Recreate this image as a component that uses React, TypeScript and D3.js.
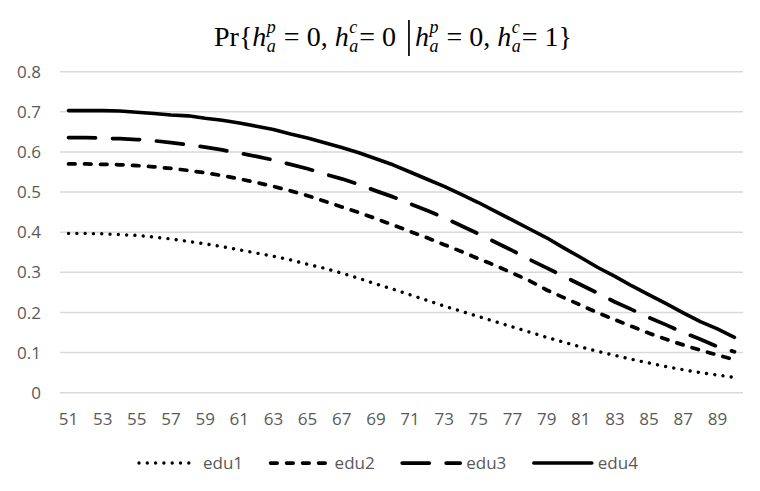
import React, { useEffect, useRef } from "react";
import * as d3 from "d3";

const ages = [51, 52, 53, 54, 55, 56, 57, 58, 59, 60, 61, 62, 63, 64, 65, 66, 67, 68, 69, 70,
  71, 72, 73, 74, 75, 76, 77, 78, 79, 80, 81, 82, 83, 84, 85, 86, 87, 88, 89, 90];

const edu1 = [0.397, 0.397, 0.396, 0.394, 0.392, 0.388, 0.383, 0.377, 0.371, 0.364,
  0.356, 0.348, 0.340, 0.331, 0.320, 0.310, 0.298, 0.285, 0.271, 0.258,
  0.244, 0.230, 0.216, 0.203, 0.190, 0.177, 0.164, 0.151, 0.138, 0.126,
  0.114, 0.103, 0.093, 0.083, 0.074, 0.065, 0.057, 0.050, 0.044, 0.038];

const edu2 = [0.570, 0.570, 0.569, 0.568, 0.566, 0.563, 0.559, 0.554, 0.548, 0.541,
  0.533, 0.524, 0.514, 0.503, 0.491, 0.477, 0.463, 0.449, 0.434, 0.418,
  0.402, 0.386, 0.369, 0.352, 0.334, 0.317, 0.298, 0.279, 0.256, 0.237,
  0.218, 0.199, 0.182, 0.165, 0.148, 0.133, 0.119, 0.106, 0.094, 0.082];

const edu3 = [0.636, 0.636, 0.634, 0.633, 0.631, 0.628, 0.623, 0.618, 0.612, 0.605,
  0.597, 0.589, 0.580, 0.569, 0.558, 0.545, 0.533, 0.519, 0.503, 0.488,
  0.471, 0.454, 0.436, 0.416, 0.396, 0.375, 0.354, 0.332, 0.311, 0.290,
  0.269, 0.248, 0.226, 0.207, 0.187, 0.169, 0.150, 0.133, 0.115, 0.102];

const edu4 = [0.703, 0.703, 0.703, 0.702, 0.699, 0.696, 0.692, 0.690, 0.684, 0.679,
  0.672, 0.664, 0.656, 0.645, 0.635, 0.623, 0.611, 0.598, 0.583, 0.568,
  0.550, 0.532, 0.514, 0.494, 0.474, 0.452, 0.430, 0.408, 0.386, 0.361,
  0.337, 0.312, 0.290, 0.266, 0.244, 0.222, 0.199, 0.177, 0.159, 0.138];

const seriesNames = ["edu1", "edu2", "edu3", "edu4"];
const yTicks = [0, 0.1, 0.2, 0.3, 0.4, 0.5, 0.6, 0.7, 0.8];
const xTickLabels = [51, 53, 55, 57, 59, 61, 63, 65, 67, 69, 71, 73, 75, 77, 79, 81, 83, 85, 87, 89];

const W = 760;
const H = 491;

const styles = [
  { dash: "0.001 8.3", width: 3.4 },
  { dash: "6.5 9.5", width: 3.75 },
  { dash: "27 17", width: 3.75 },
  { dash: null, width: 3.6 },
];

export default function App() {
  const ref = useRef<SVGSVGElement | null>(null);

  useEffect(() => {
    const svg = d3.select(ref.current);
    svg.selectAll("*").remove();

    const left = 60, right = 743, top = 71.7, bottom = 392.7;
    const x = d3.scaleBand<number>().domain(ages).range([left, right]).padding(0);
    const cx = (a: number) => (x(a) as number) + x.bandwidth() / 2;
    const y = d3.scaleLinear().domain([0, 0.8]).range([bottom, top]);

    const font = "'Open Sans', 'Noto Sans', sans-serif";
    const grey = "#595959";

    // gridlines
    svg.append("g").selectAll("line").data(yTicks).join("line")
      .attr("x1", left).attr("x2", right)
      .attr("y1", (d) => y(d)).attr("y2", (d) => y(d))
      .attr("stroke", "#d9d9d9").attr("stroke-width", 1.5);

    // y labels
    svg.append("g").selectAll("text").data(yTicks).join("text")
      .attr("x", 41).attr("y", (d) => y(d)).attr("dy", "0.36em")
      .attr("text-anchor", "end")
      .attr("font-family", font).attr("font-size", 17).attr("fill", grey)
      .text((d) => (d === 0 ? "0" : d3.format(".1f")(d)));

    // x labels
    svg.append("g").selectAll("text").data(xTickLabels).join("text")
      .attr("x", (d) => cx(d)).attr("y", 425)
      .attr("text-anchor", "middle")
      .attr("font-family", font).attr("font-size", 17).attr("fill", grey)
      .text((d) => String(d));

    // lines
    const allSeries = [edu1, edu2, edu3, edu4];
    const line = d3.line<number>()
      .x((_, i) => cx(ages[i]))
      .y((d) => y(d));
    allSeries.forEach((s, k) => {
      const p = svg.append("path")
        .attr("d", line(s) as string)
        .attr("fill", "none")
        .attr("stroke", "#000")
        .attr("stroke-width", styles[k].width)
        .attr("stroke-linecap", "round")
        .attr("stroke-linejoin", "round");
      if (styles[k].dash) p.attr("stroke-dasharray", styles[k].dash as string);
    });

    // legend
    const legendStarts = d3.range(4).map((i) => 139 + i * 131.6);
    const ly = 463;
    seriesNames.forEach((name, k) => {
      const sx = legendStarts[k];
      const p = svg.append("line")
        .attr("x1", sx).attr("x2", sx + 58)
        .attr("y1", ly).attr("y2", ly)
        .attr("stroke", "#000")
        .attr("stroke-width", styles[k].width)
        .attr("stroke-linecap", "round");
      if (styles[k].dash) p.attr("stroke-dasharray", styles[k].dash as string);
      svg.append("text")
        .attr("x", sx + 64).attr("y", ly).attr("dy", "0.36em")
        .attr("font-family", font).attr("font-size", 17).attr("fill", grey)
        .text(name);
    });

    // title
    const tfont = "'Liberation Serif', 'DejaVu Serif', serif";
    const fs = 28;
    const sfs = 18;
    const base = 46;
    const tg = svg.append("g");
    let cur = 0;
    const addText = (t: string, italic: boolean, size: number, dy: number, xx: number) => {
      const el = tg.append("text")
        .attr("x", xx).attr("y", base + dy)
        .attr("font-family", tfont).attr("font-size", size)
        .attr("font-style", italic ? "italic" : "normal")
        .attr("fill", "#000")
        .style("white-space", "pre")
        .text(t);
      return (el.node() as SVGTextElement).getComputedTextLength();
    };
    type Tok = { t?: string; it?: boolean; sup?: string; sub?: string; bar?: boolean };
    const toks: Tok[] = [
      { t: "Pr{", it: false },
      { t: "h", it: true, sup: "p", sub: "a" },
      { t: " = 0, ", it: false },
      { t: "h", it: true, sup: "c", sub: "a" },
      { t: "= 0", it: false },
      { bar: true },
      { t: "h", it: true, sup: "p", sub: "a" },
      { t: " = 0, ", it: false },
      { t: "h", it: true, sup: "c", sub: "a" },
      { t: "= 1}", it: false },
    ];
    toks.forEach((tk) => {
      if (tk.bar) {
        cur += 13;
        tg.append("line")
          .attr("x1", cur).attr("x2", cur)
          .attr("y1", base - 26).attr("y2", base + 10)
          .attr("stroke", "#000").attr("stroke-width", 1.7);
        cur += 6;
        return;
      }
      cur += addText(tk.t as string, !!tk.it, fs, 0, cur);
      if (tk.sup || tk.sub) {
        const w1 = addText(tk.sup as string, true, sfs, -13, cur + 0.5);
        const w2 = addText(tk.sub as string, true, sfs, 6, cur + 0.5);
        cur += Math.max(w1, w2) + 1.5;
      }
    });
    const tw = cur;
    tg.attr("transform", `translate(${393 - tw / 2},0)`);
  }, []);

  return (
    <svg
      ref={ref}
      width={W}
      height={H}
      viewBox={`0 0 ${W} ${H}`}
      style={{ position: "absolute", left: 0, top: 0, background: "#fff" }}
    />
  );
}
